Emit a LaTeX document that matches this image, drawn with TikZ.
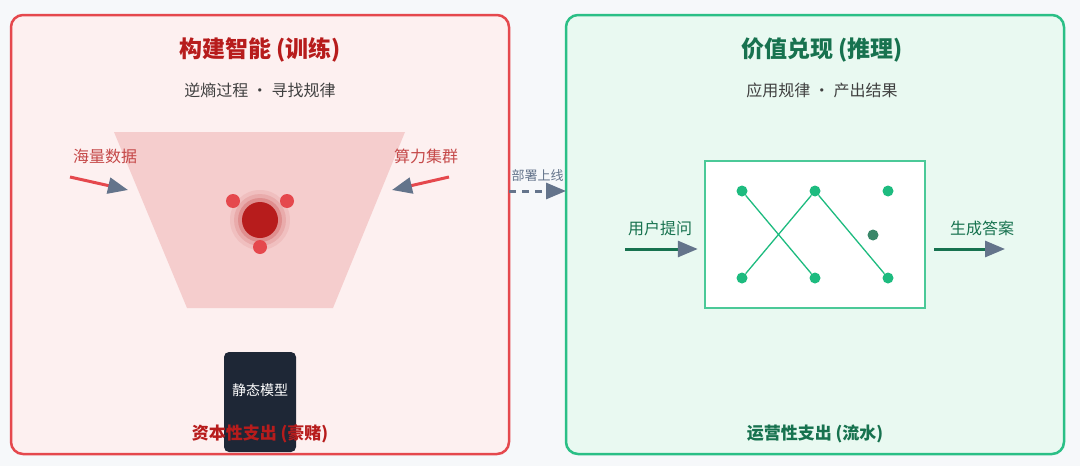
\documentclass[tikz,border=0pt]{standalone}
\usepackage{fontspec}
\setmainfont{Noto Sans CJK SC}
\usetikzlibrary{positioning, arrows.meta}
\definecolor{pagebg}{HTML}{F6F8FA}
\definecolor{redline}{HTML}{E5484D}
\definecolor{redfill}{HTML}{FDF0F0}
\definecolor{redtext}{HTML}{B71C1C}
\definecolor{funnel}{HTML}{F5CDCD}
\definecolor{greenline}{HTML}{2BBF86}
\definecolor{greenfill}{HTML}{E9F9F1}
\definecolor{greentext}{HTML}{17724F}
\definecolor{dotgreen}{HTML}{1DBB7F}
\definecolor{slate}{HTML}{64748B}
\definecolor{darkbox}{HTML}{1E2736}
\tikzstyle{panel} = [
    rounded corners=12pt, line width=2.5pt % outer cards
]
\tikzstyle{title} = [font=\bfseries\fontsize{23}{26}\selectfont]
\tikzstyle{subtitle} = [font=\fontsize{16}{19}\selectfont, text=black!75]
\tikzstyle{caption} = [font=\fontsize{16}{19}\selectfont]
\tikzstyle{dot} = [circle, fill=dotgreen, inner sep=0pt, minimum size=11pt]
\tikzstyle{flow} = [line width=3pt, -{Triangle[length=20pt, width=16pt, color=slate, fill=slate]}]

\begin{document}
\begin{tikzpicture}[x=1pt, y=-1pt]
        \useasboundingbox[fill=pagebg] (0,0) rectangle (1080,466);
        % Panels
        \draw[panel, draw=redline, fill=redfill] (11,15) rectangle (509,454);
        \draw[panel, draw=greenline, fill=greenfill] (566,15) rectangle (1064,454);

        % Training side
        \node[title, text=redtext] (trainTitle) at (260,50) {构建智能 (训练)};
        \node[subtitle] (trainSub) at (260,90) {逆熵过程 · 寻找规律};
        \fill[funnel] (114,132) -- (405,132) -- (333,308) -- (187,308) -- cycle;
        \foreach \r/\o in {30/0.08, 26/0.12, 22/0.2} {
            \fill[redtext, opacity=\o] (260,220) circle (\r pt);
        }
        \node[circle, fill=redtext, inner sep=0pt, minimum size=36pt] (core) at (260,220) {};
        \foreach \px/\py [count=\i] in {233/201, 287/201, 260/247} {
            \node[circle, fill=redline, inner sep=0pt, minimum size=14pt] (sat\i) at (\px,\py) {};
        }
        \node[caption, text=redtext!80] (data) at (105,156) {海量数据};
        \node[caption, text=redtext!80] (compute) at (426,156) {算力集群};
        \coordinate (dataStart) at (70,177);
        \coordinate (dataEnd) at (128,190);
        \coordinate (compStart) at (449,177);
        \coordinate (compEnd) at (392,190);
        \draw[flow, draw=redline] (dataStart) -- (dataEnd);
        \draw[flow, draw=redline] (compStart) -- (compEnd);
        \node[rounded corners=5pt, fill=darkbox, minimum width=72pt, minimum height=100pt] (model) at (260,402) {};
        \node[text=white, font=\fontsize{14}{17}\selectfont] (modelText) at (260,390) {静态模型};
        \node[text=redtext, font=\bfseries\fontsize{17}{20}\selectfont] (capex) at (260,434) {资本性支出 (豪赌)};

        % Deployment
        \coordinate (deployStart) at (509,191);
        \coordinate (deployEnd) at (566,191);
        \draw[flow, draw=slate, dash pattern=on 7pt off 6pt] (deployStart) -- (deployEnd)
            node[midway, above=5pt, text=slate, font=\fontsize{13}{15}\selectfont] {部署上线};

        % Inference side
        \node[title, text=greentext] (inferTitle) at (822,50) {价值兑现 (推理)};
        \node[subtitle] (inferSub) at (822,90) {应用规律 · 产出结果};
        \node[draw=greenline!85, line width=2.5pt, fill=white, minimum width=220pt, minimum height=147pt] (net) at (815,234.5) {};
        \foreach \px [count=\i] in {742, 815, 888} {
            \node[dot] (top\i) at (\px,191) {};
            \node[dot] (bot\i) at (\px,278) {};
        }
        \node[dot, fill=greentext!85] (mid) at (873,235) {};
        \draw[dotgreen, line width=1.3pt] (top1) -- (bot2);
        \draw[dotgreen, line width=1.3pt] (bot1) -- (top2);
        \draw[dotgreen, line width=1.3pt] (top2) -- (bot3);
        \node[caption, text=greentext] (ask) at (660,228) {用户提问};
        \node[caption, text=greentext] (answer) at (982,228) {生成答案};
        \coordinate (askStart) at (625,249);
        \coordinate (answerEnd) at (1005,249);
        \draw[flow, draw=greentext] (askStart) -- ([xshift=-6pt]askStart -| net.west);
        \draw[flow, draw=greentext] ([xshift=8pt]answerEnd -| net.east) -- (answerEnd);
        \node[text=greentext, font=\bfseries\fontsize{17}{20}\selectfont] (opex) at (815,434) {运营性支出 (流水)};

    \end{tikzpicture}
\end{document}
